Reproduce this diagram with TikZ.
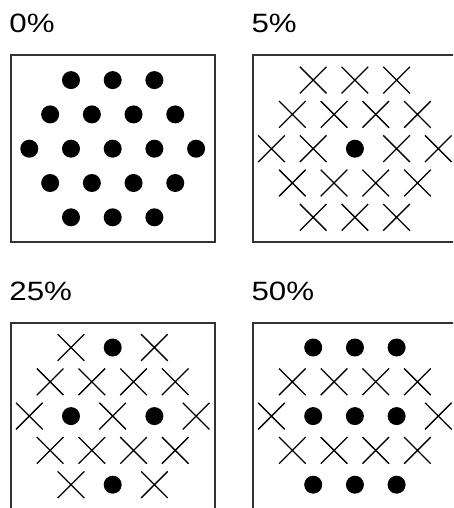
\documentclass[tikz,border=0pt]{standalone}
\usepackage{fontspec}
\setmainfont{Liberation Sans}
\newcommand\pctlabel[1]{\scalebox{1.18}[1]{\fontsize{26.5}{30}\selectfont #1}}
\tikzset{
  pd/.pic={\fill[black] (0,0) circle[radius=9pt];},
  px/.pic={\draw[black,line width=1.3pt] (-13.3,-13.3)--(13.3,13.3) (-13.3,13.3)--(13.3,-13.3);},
  panelbox/.style={draw=black!80,line width=2pt},
  pctstyle/.style={anchor=base west,inner sep=0pt,text=black}
}
\newcommand\mkpanel[4]{%
  \draw[panelbox] (#1-102.2,#2-93.4) rectangle (#1+102.3,#2+93.4);
  \node[pctstyle] at (#1-103.5,#2-115.7) {\pctlabel{#3}};
  \foreach \k/\r/\t in {#4} {
    \pic at ({#1+\k*20.85},{#2+(\r-3)*34.3}) {\t};
  }
}
\begin{document}
\begin{tikzpicture}[x=1pt,y=-1pt]
\useasboundingbox (0,0) rectangle (453,508);
\clip (0,0) rectangle (453,508);
% 0%
\mkpanel{112.7}{148.7}{0\%}{-2/1/pd,0/1/pd,2/1/pd,
  -3/2/pd,-1/2/pd,1/2/pd,3/2/pd,
  -4/3/pd,-2/3/pd,0/3/pd,2/3/pd,4/3/pd,
  -3/4/pd,-1/4/pd,1/4/pd,3/4/pd,
  -2/5/pd,0/5/pd,2/5/pd}
% 5%
\mkpanel{354.9}{148.7}{5\%}{-2/1/px,0/1/px,2/1/px,
  -3/2/px,-1/2/px,1/2/px,3/2/px,
  -4/3/px,-2/3/px,0/3/pd,2/3/px,4/3/px,
  -3/4/px,-1/4/px,1/4/px,3/4/px,
  -2/5/px,0/5/px,2/5/px}
% 25%
\mkpanel{112.7}{416.1}{25\%}{-2/1/px,0/1/pd,2/1/px,
  -3/2/px,-1/2/px,1/2/px,3/2/px,
  -4/3/px,-2/3/pd,0/3/px,2/3/pd,4/3/px,
  -3/4/px,-1/4/px,1/4/px,3/4/px,
  -2/5/px,0/5/pd,2/5/px}
% 50%
\mkpanel{354.9}{416.1}{50\%}{-2/1/pd,0/1/pd,2/1/pd,
  -3/2/px,-1/2/px,1/2/px,3/2/px,
  -4/3/px,-2/3/pd,0/3/pd,2/3/pd,4/3/px,
  -3/4/px,-1/4/px,1/4/px,3/4/px,
  -2/5/pd,0/5/pd,2/5/pd}
\end{tikzpicture}
\end{document}
